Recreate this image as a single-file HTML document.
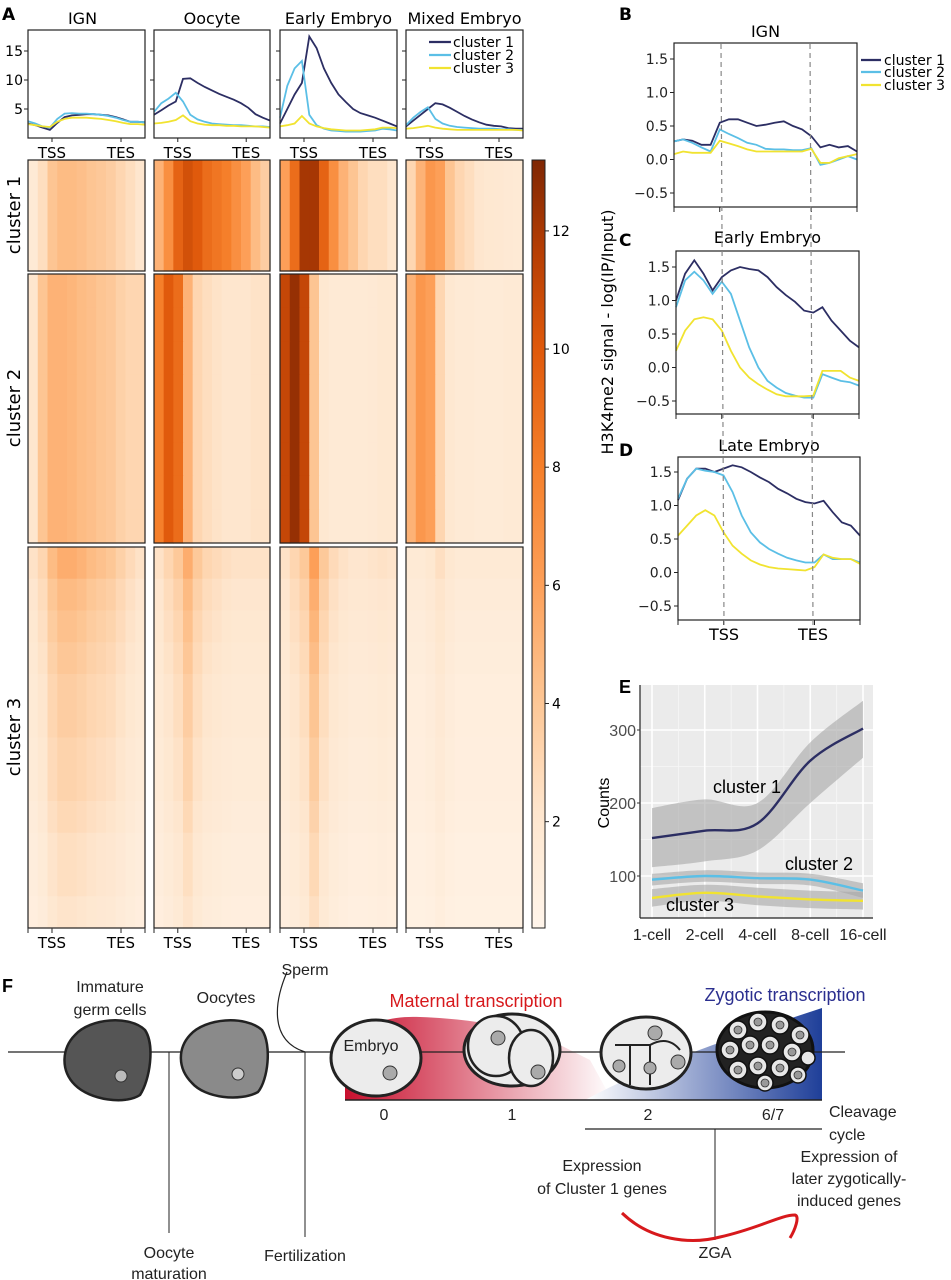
<!DOCTYPE html>
<html><head><meta charset="utf-8">
<style>
html,body{margin:0;padding:0;background:#fff;}
svg{display:block;font-family:"DejaVu Sans","Liberation Sans",sans-serif;}
</style></head>
<body>
<svg id="fig" width="951" height="1280" viewBox="0 0 951 1280" xmlns="http://www.w3.org/2000/svg">
<defs>
<linearGradient id="redGrad" x1="0" x2="1" y1="0" y2="0"><stop offset="0" stop-color="#c8102e"/><stop offset="1" stop-color="#ffffff"/></linearGradient>
<linearGradient id="blueGrad" x1="0" x2="1" y1="0" y2="0"><stop offset="0" stop-color="#ffffff"/><stop offset="1" stop-color="#1f3f99"/></linearGradient>
<linearGradient id="cbarGrad" x1="0" x2="0" y1="1" y2="0">
<stop offset="0" stop-color="#fff5eb"/><stop offset="0.15" stop-color="#fee6ce"/><stop offset="0.3" stop-color="#fdc593"/><stop offset="0.45" stop-color="#fd9f58"/><stop offset="0.6" stop-color="#f57f2a"/><stop offset="0.75" stop-color="#e05a0c"/><stop offset="0.88" stop-color="#b63e04"/><stop offset="1" stop-color="#7f2704"/></linearGradient>
</defs>
<g id="panelA"></g>
<g id="panelBCD"></g>
<g id="panelE" font-family="Liberation Sans, sans-serif"></g>
<g id="panelF" font-family="Liberation Sans, sans-serif"></g>
</svg>
<script>
// ---------- DATA ----------
const samplesA = ["IGN","Oocyte","Early Embryo","Mixed Embryo"];
const ticksA = [5,10,15];
const profIGN_c1 = [2.5,2.2,1.8,1.4,2.6,3.6,3.9,4.0,4.1,4.1,4.0,3.9,3.6,3.2,2.8,2.8,2.7];
const profIGN_c2 = [2.9,2.5,2.0,1.8,3.3,4.2,4.3,4.2,4.2,4.1,4.0,3.8,3.5,3.1,2.8,2.8,2.7];
const profIGN_c3 = [2.4,2.2,2.0,1.9,2.8,3.3,3.5,3.5,3.5,3.4,3.3,3.1,2.9,2.6,2.4,2.4,2.3];
const profOoc_c1 = [4,4.8,5.6,6.3,10.2,10.3,9.5,8.8,8.2,7.6,7.1,6.6,6.0,5.2,4.1,3.5,3.0];
const profOoc_c2 = [4.5,6,6.8,7.8,6.3,4,3.2,2.8,2.5,2.4,2.3,2.2,2.2,2.1,2.0,2.0,1.9];
const profOoc_c3 = [2.5,2.6,2.8,3.1,3.9,2.9,2.5,2.3,2.2,2.2,2.1,2.1,2.0,2.0,2.0,1.9,1.8];
const profEar_c1 = [2.5,5,7.5,9.5,17.5,15.5,12,9.5,7.5,6.2,5,4.3,3.9,3.5,3.0,2.5,2.0];
const profEar_c2 = [3.5,9,12,13.3,4,2.2,1.6,1.3,1.2,1.1,1.1,1.1,1.2,1.3,1.6,1.5,1.3];
const profEar_c3 = [2.0,2.2,2.5,3.8,2.5,2.0,1.7,1.5,1.4,1.3,1.3,1.3,1.4,1.5,1.8,1.8,1.7];
const profMix_c1 = [2,3,4,5,6,5.8,5.2,4.5,3.8,3.2,2.7,2.3,2.1,2.0,1.7,1.6,1.6];
const profMix_c2 = [2.2,3.5,4.5,5.3,3.3,2.5,2.1,1.9,1.8,1.7,1.6,1.6,1.6,1.5,1.5,1.4,1.4];
const profMix_c3 = [1.6,1.7,1.9,2.1,1.8,1.6,1.5,1.4,1.4,1.4,1.4,1.4,1.4,1.4,1.4,1.4,1.3];

const heatIGN_c1 = [1.5,2.5,4,4.5,4.5,4.3,4,3.8,3.5,3,2.5,2];
const heatIGN_c2 = [2,4,5,5,4.8,4.5,4.3,4,3.8,3.3,3,3];
const heatIGN_c3 = [1.5,2,3,3.5,3.5,3.3,3,2.8,2.6,2.2,1.8,1.5];
const heatOoc_c1 = [5,7,9.5,10.5,10,9,8.5,8,7,6,4.5,3.5];
const heatOoc_c2 = [8,10,9,5,3,2.5,2.2,2,2,2,2.2,2.2];
const heatOoc_c3 = [1.5,2,2.5,3.5,2.5,2,1.8,1.6,1.5,1.5,1.5,1.5];
const heatEar_c1 = [6,9,12,12,9.5,7,5,4,3,2.5,2.5,2];
const heatEar_c2 = [11,12.5,11,4,1.8,1.5,1.5,1.5,1.5,1.6,1.8,1.8];
const heatEar_c3 = [1.5,2,2.5,4,2.5,1.8,1.5,1.3,1.3,1.4,1.5,1.4];
const heatMix_c1 = [3,5,6.5,6,4,3,2.5,2,1.8,1.7,1.6,1.5];
const heatMix_c2 = [5,6.5,6,3,1.8,1.5,1.5,1.4,1.4,1.4,1.5,1.5];
const heatMix_c3 = [1,1,1.2,1.6,1.2,1,1,1,1,1,1,1];
const rowScale_c1 = [1,1,1,1,1,1];
const rowScale_c2 = [1,1,1,1,1,1,1,1];
const rowScale_c3 = [1.5,1.3,1.2,1.1,1,1,0.9,0.9,0.8,0.7,0.7,0.6];
const cbarTicks = [2,4,6,8,10,12];

const titlesBCD = ["IGN","Early Embryo","Late Embryo"];
const ticksBCD = [-0.5,0.0,0.5,1.0,1.5];
const ign_c1 = [0.27,0.3,0.28,0.22,0.22,0.55,0.6,0.6,0.55,0.5,0.52,0.55,0.57,0.5,0.45,0.35,0.18,0.22,0.18,0.2,0.12];
const ign_c2 = [0.27,0.3,0.25,0.18,0.12,0.45,0.38,0.32,0.25,0.22,0.16,0.15,0.15,0.14,0.14,0.17,-0.08,-0.05,0.0,0.05,0.0];
const ign_c3 = [0.08,0.12,0.1,0.1,0.1,0.28,0.24,0.2,0.15,0.12,0.12,0.12,0.12,0.12,0.12,0.16,-0.05,-0.05,0.02,0.05,0.08];
const early_c1 = [1.0,1.4,1.6,1.4,1.15,1.35,1.45,1.5,1.47,1.45,1.35,1.2,1.08,0.98,0.85,0.82,0.9,0.7,0.55,0.4,0.3];
const early_c2 = [0.9,1.3,1.43,1.3,1.1,1.28,1.1,0.7,0.3,0.0,-0.2,-0.3,-0.38,-0.42,-0.45,-0.45,-0.1,-0.15,-0.2,-0.22,-0.27];
const early_c3 = [0.25,0.55,0.72,0.75,0.72,0.55,0.25,0.0,-0.15,-0.25,-0.33,-0.4,-0.43,-0.43,-0.43,-0.42,-0.05,-0.05,-0.05,-0.15,-0.2];
const late_c1 = [1.08,1.4,1.55,1.55,1.5,1.55,1.6,1.57,1.5,1.42,1.35,1.25,1.18,1.1,1.05,1.03,1.07,0.9,0.75,0.7,0.55];
const late_c2 = [1.1,1.4,1.55,1.52,1.5,1.45,1.2,0.85,0.6,0.45,0.35,0.28,0.22,0.18,0.15,0.15,0.27,0.2,0.2,0.2,0.15];
const late_c3 = [0.55,0.7,0.85,0.93,0.85,0.6,0.4,0.28,0.18,0.12,0.08,0.06,0.05,0.04,0.03,0.08,0.27,0.22,0.2,0.2,0.13];

const stagesE = ["1-cell","2-cell","4-cell","8-cell","16-cell"];
const ticksE = [100,200,300];
const countC1 = [152,162,172,258,302];
const countC1hi = [193,205,200,283,340];
const countC1lo = [112,120,135,200,262];
const countC2 = [95,100,97,95,80];
const countC2hi = [103,108,105,103,90];
const countC2lo = [87,92,89,87,70];
const countC3 = [70,77,72,68,66];
const countC3hi = [82,88,84,80,78];
const countC3lo = [58,66,60,56,54];

// ---------- HELPERS ----------
const NS = "http://www.w3.org/2000/svg";
const C1 = "#2c2e63", C2 = "#5bbfe6", C3 = "#f1e330";
function mk(parent, tag, attrs, text){
  const e = document.createElementNS(NS, tag);
  for (const k in attrs) e.setAttribute(k, attrs[k]);
  if (text !== undefined) e.textContent = text;
  parent.appendChild(e);
  return e;
}
function polyPath(vals, xs, ys){
  return vals.map((v,i)=>(i?"L":"M")+xs(i).toFixed(1)+","+ys(v).toFixed(1)).join(" ");
}
function smoothPath(vals, xs, ys){
  const p = vals.map((v,i)=>[xs(i), ys(v)]);
  let d = "M"+p[0][0]+","+p[0][1];
  for (let i=0;i<p.length-1;i++){
    const p0=p[Math.max(0,i-1)], p1=p[i], p2=p[i+1], p3=p[Math.min(p.length-1,i+2)];
    const c1x=p1[0]+(p2[0]-p0[0])/6, c1y=p1[1]+(p2[1]-p0[1])/6;
    const c2x=p2[0]-(p3[0]-p1[0])/6, c2y=p2[1]-(p3[1]-p1[1])/6;
    d += " C"+c1x.toFixed(1)+","+c1y.toFixed(1)+" "+c2x.toFixed(1)+","+c2y.toFixed(1)+" "+p2[0].toFixed(1)+","+p2[1].toFixed(1);
  }
  return d;
}
const cmapStops = [[0,[255,245,235]],[2,[254,230,206]],[4,[253,197,147]],[6,[253,159,88]],[8,[245,127,42]],[10,[224,90,12]],[11.5,[182,62,4]],[13.2,[127,39,4]]];
function cmap(v){
  if (v<=cmapStops[0][0]) return "rgb("+cmapStops[0][1]+")";
  for (let i=0;i<cmapStops.length-1;i++){
    const a=cmapStops[i], b=cmapStops[i+1];
    if (v<=b[0]){ const t=(v-a[0])/(b[0]-a[0]);
      return "rgb("+a[1].map((c,j)=>Math.round(c+(b[1][j]-c)*t)).join(",")+")"; }
  }
  return "rgb("+cmapStops[cmapStops.length-1][1]+")";
}

// ---------- PANEL A ----------
const A = document.getElementById("panelA");
mk(A,"text",{x:2,y:20,"font-size":17,"font-weight":"bold",},"A");
const boxX = [[28,145],[154,270],[280,397],[406,523]];
const profTop=30, profBot=138;
const yA = v => Math.max(profTop, profBot - v*5.8);
const profs = [[profIGN_c1,profIGN_c2,profIGN_c3],[profOoc_c1,profOoc_c2,profOoc_c3],[profEar_c1,profEar_c2,profEar_c3],[profMix_c1,profMix_c2,profMix_c3]];
const heats = [[heatIGN_c1,heatIGN_c2,heatIGN_c3],[heatOoc_c1,heatOoc_c2,heatOoc_c3],[heatEar_c1,heatEar_c2,heatEar_c3],[heatMix_c1,heatMix_c2,heatMix_c3]];
const rowScales=[rowScale_c1,rowScale_c2,rowScale_c3];
const hmY = [[160,271],[274,543],[547,928]];
const colors=[C1,C2,C3];
samplesA.forEach((s,si)=>{
  const [x0,x1]=boxX[si], w=x1-x0;
  const title = mk(A,"text",{x:(x0+x1)/2+ (si===0?-4:0),y:24,"font-size":16,"text-anchor":"middle"},s);
  
  
  profs[si].forEach((vals,ci)=>{
    const xs = i => x0 + i*w/(vals.length-1);
    const ln = mk(A,"path",{d:polyPath(vals,xs,yA),fill:"none",stroke:colors[ci],"stroke-width":1.8});
    
    
  });
  const bx = mk(A,"rect",{x:x0,y:profTop,width:w,height:profBot-profTop,fill:"none",stroke:"#222","stroke-width":1.2});
  
  
  ticksA.forEach(t=>{
    mk(A,"line",{x1:x0-4,x2:x0,y1:yA(t),y2:yA(t),stroke:"#222","stroke-width":1});
    if (si===0){
      const tl = mk(A,"text",{x:x0-5,y:yA(t)+5,"font-size":14,"text-anchor":"end"},String(t));
      
      
    }
  });
  const tssX = x0 + w*0.205, tesX = x0 + w*0.795;
  [[tssX,"TSS"],[tesX,"TES"]].forEach(([xx,lab])=>{
    mk(A,"line",{x1:xx,x2:xx,y1:profBot,y2:profBot+4,stroke:"#222"});
    const t1 = mk(A,"text",{x:xx,y:158,"font-size":15,"text-anchor":"middle"},lab);
    
    
    mk(A,"line",{x1:xx,x2:xx,y1:928,y2:933,stroke:"#222"});
    const t2 = mk(A,"text",{x:xx,y:948,"font-size":15,"text-anchor":"middle"},lab);
    
    
  });
  mk(A,"line",{x1:x0,x2:x0,y1:928,y2:933,stroke:"#222"});
  mk(A,"line",{x1:x1,x2:x1,y1:928,y2:933,stroke:"#222"});
  heats[si].forEach((cols,ci)=>{
    const [y0,y1]=hmY[ci], rs=rowScales[ci];
    const cw = w/cols.length, rh=(y1-y0)/rs.length;
    rs.forEach((r,ri)=>{
      cols.forEach((v,bi)=>{
        const c = mk(A,"rect",{x:(x0+bi*cw).toFixed(2),y:(y0+ri*rh).toFixed(2),width:(cw+0.6).toFixed(2),height:(rh+0.6).toFixed(2),fill:cmap(v*r)});
        
        
      });
    });
    const hb = mk(A,"rect",{x:x0,y:y0,width:w,height:y1-y0,fill:"none",stroke:"#222","stroke-width":1.2});
    
    
  });
});
[["cluster 1",C1,42],["cluster 2",C2,55],["cluster 3",C3,68]].forEach(([lab,col,yy],i)=>{
  mk(A,"line",{x1:429,x2:451,y1:yy,y2:yy,stroke:col,"stroke-width":2.2});
  const t = mk(A,"text",{x:453,y:yy+5,"font-size":14},lab);
  
  
});
[["cluster 1",215],["cluster 2",408],["cluster 3",737]].forEach(([lab,yy],i)=>{
  const t = mk(A,"text",{x:20,y:yy,"font-size":18,"text-anchor":"middle",transform:"rotate(-90 20 "+yy+")"},lab);
  
  
});
const cbTop=160, cbBot=928, cbMin=0.2, cbMax=13.2;
const yCB = v => cbBot - (v-cbMin)/(cbMax-cbMin)*(cbBot-cbTop);
const cb = mk(A,"rect",{x:532,y:cbTop,width:13,height:cbBot-cbTop,fill:"url(#cbarGrad)",stroke:"#222","stroke-width":1});


cbarTicks.forEach(t=>{
  mk(A,"line",{x1:545,x2:549,y1:yCB(t),y2:yCB(t),stroke:"#222"});
  const tl = mk(A,"text",{x:552,y:yCB(t)+5,"font-size":14},String(t));
  
  
});

// ---------- PANELS B C D ----------
const B = document.getElementById("panelBCD");
const bcd = [
  {lab:"B",ly:20,title:titlesBCD[0],ty:37,x0:674,x1:857,top:43,bot:207,y15:59,data:[ign_c1,ign_c2,ign_c3]},
  {lab:"C",ly:246,title:titlesBCD[1],ty:243,x0:676,x1:859,top:251,bot:414,y15:267,data:[early_c1,early_c2,early_c3]},
  {lab:"D",ly:456,title:titlesBCD[2],ty:451,x0:678,x1:860,top:457,bot:620,y15:472,data:[late_c1,late_c2,late_c3]}
];
bcd.forEach((p,pi)=>{
  const w=p.x1-p.x0;
  const ys = v => p.y15 + (1.5-v)*67;
  const xs = i => p.x0 + i*w/20;
  mk(B,"text",{x:619,y:p.ly,"font-size":17,"font-weight":"bold"},p.lab);
  const tt = mk(B,"text",{x:(p.x0+p.x1)/2,y:p.ty,"font-size":16,"text-anchor":"middle"},p.title);
  
  
  p.data.forEach((vals,ci)=>{
    const ln = mk(B,"path",{d:polyPath(vals,xs,ys),fill:"none",stroke:colors[ci],"stroke-width":1.8});
    
    
  });
  mk(B,"rect",{x:p.x0,y:p.top,width:w,height:p.bot-p.top,fill:"none",stroke:"#222","stroke-width":1.2});
  ticksBCD.forEach(t=>{
    mk(B,"line",{x1:p.x0-4,x2:p.x0,y1:ys(t),y2:ys(t),stroke:"#222"});
    const tl = mk(B,"text",{x:p.x0-6,y:ys(t)+5,"font-size":14,"text-anchor":"end",fill:"#222"},(t<0?"\u2212":"")+Math.abs(t).toFixed(1));
    
    
  });
  [0,5,15,20].forEach(i=>mk(B,"line",{x1:xs(i),x2:xs(i),y1:p.bot,y2:p.bot+5,stroke:"#222"}));
});
mk(B,"line",{x1:721,x2:724,y1:44,y2:625,stroke:"#888","stroke-width":1.2,"stroke-dasharray":"5,4"});
mk(B,"line",{x1:810,x2:813,y1:44,y2:625,stroke:"#888","stroke-width":1.2,"stroke-dasharray":"5,4"});
mk(B,"text",{x:724,y:640,"font-size":16,"text-anchor":"middle"},"TSS");
mk(B,"text",{x:813,y:640,"font-size":16,"text-anchor":"middle"},"TES");
mk(B,"text",{x:613,y:332,"font-size":16,"text-anchor":"middle",transform:"rotate(-90 613 332)"},"H3K4me2 signal - log(IP/Input)");
[["cluster 1",C1,60],["cluster 2",C2,72],["cluster 3",C3,85]].forEach(([lab,col,yy],i)=>{
  mk(B,"line",{x1:861,x2:881,y1:yy,y2:yy,stroke:col,"stroke-width":2.2});
  const t = mk(B,"text",{x:884,y:yy+5,"font-size":14},lab);
  
  
});

// ---------- PANEL E ----------
const E = document.getElementById("panelE");
const ex0=640, ex1=873, etop=685, ebot=918;
const xE = i => 652 + i*52.75;
const yE = v => 876 - (v-100)*0.73;
mk(E,"text",{x:619,y:693,"font-size":18,"font-weight":"bold"},"E");
mk(E,"rect",{x:ex0,y:etop,width:ex1-ex0,height:ebot-etop,fill:"#ebebeb"});
[150,250].forEach(v=>mk(E,"line",{x1:ex0,x2:ex1,y1:yE(v),y2:yE(v),stroke:"#f7f7f7","stroke-width":0.8}));
ticksE.forEach(v=>mk(E,"line",{x1:ex0,x2:ex1,y1:yE(v),y2:yE(v),stroke:"#fff","stroke-width":1.6}));
stagesE.forEach((s,i)=>{
  mk(E,"line",{x1:xE(i),x2:xE(i),y1:etop,y2:ebot,stroke:"#fff","stroke-width":1.6});
  if (i<stagesE.length-1) mk(E,"line",{x1:xE(i)+26.4,x2:xE(i)+26.4,y1:etop,y2:ebot,stroke:"#f7f7f7","stroke-width":0.8});
  const t = mk(E,"text",{x:xE(i),y:940,"font-size":16,"text-anchor":"middle",fill:"#222"},s);
  
  
});
function band(hi,lo,name){
  const up = smoothPath(hi,xE,yE);
  const rev = lo.slice().reverse();
  const down = smoothPath(rev,i=>xE(lo.length-1-i),yE).replace(/^M/,"L");
  const b = mk(E,"path",{d:up+" "+down+" Z",fill:"#a6a6a6","fill-opacity":0.6});
  
  
}
band(countC1hi,countC1lo,'ci-band-cluster-1');
band(countC2hi,countC2lo,'ci-band-cluster-2');
band(countC3hi,countC3lo,'ci-band-cluster-3');
[[countC3,C3,3],[countC2,C2,2],[countC1,C1,1]].forEach(([vals,col,n])=>{
  const l = mk(E,"path",{d:smoothPath(vals,xE,yE),fill:"none",stroke:col,"stroke-width":2.4});
  
  
});
mk(E,"line",{x1:ex0,x2:ex0,y1:etop,y2:ebot,stroke:"#222","stroke-width":1.2});
mk(E,"line",{x1:ex0,x2:ex1,y1:ebot,y2:ebot,stroke:"#222","stroke-width":1.2});
ticksE.forEach(v=>{
  mk(E,"line",{x1:ex0-3,x2:ex0,y1:yE(v),y2:yE(v),stroke:"#333"});
  const t = mk(E,"text",{x:ex0-4,y:yE(v)+6,"font-size":16,"text-anchor":"end",fill:"#4d4d4d"},String(v));
  
  
});
mk(E,"text",{x:609,y:803,"font-size":16,"text-anchor":"middle",transform:"rotate(-90 609 803)"},"Counts");
mk(E,"text",{x:713,y:793,"font-size":18},"cluster 1");
mk(E,"text",{x:785,y:870,"font-size":18},"cluster 2");
mk(E,"text",{x:666,y:911,"font-size":18},"cluster 3");

// ---------- PANEL F ----------
const F = document.getElementById("panelF");
F.innerHTML = `
<text x="2" y="992" font-size="18" font-weight="bold">F</text>
<path d="M345,1062 C345,1030 380,1015 420,1017 C470,1019 500,1025 540,1035 L590,1060 L612,1100 L345,1100 Z" fill="url(#redGrad)"/>
<path d="M585,1100 C640,1070 700,1050 740,1035 L822,1008 L822,1100 Z" fill="url(#blueGrad)"/>
<line x1="345" y1="1100" x2="822" y2="1100" stroke="#222" stroke-width="1.5"/>
<line x1="8" y1="1052" x2="845" y2="1052" stroke="#222" stroke-width="1.2"/>
<path d="M75,1035 C90,1018 130,1015 145,1030 C155,1045 150,1080 140,1095 C125,1105 90,1100 75,1085 C60,1070 62,1048 75,1035 Z" fill="#555" stroke="#222" stroke-width="2.5"/>
<circle cx="121" cy="1076" r="6" fill="#bbb" stroke="#333"/>
<path d="M190,1035 C205,1018 245,1015 262,1030 C272,1045 268,1080 258,1092 C240,1102 205,1098 192,1083 C177,1068 178,1048 190,1035 Z" fill="#8a8a8a" stroke="#222" stroke-width="2.5"/>
<circle cx="238" cy="1074" r="6" fill="#ccc" stroke="#333"/>
<path d="M287,972 C275,1000 268,1040 305,1052" fill="none" stroke="#222" stroke-width="1.2"/>
<line x1="169" y1="1052" x2="169" y2="1233" stroke="#222" stroke-width="1"/>
<line x1="305" y1="1052" x2="305" y2="1237" stroke="#222" stroke-width="1"/>
<ellipse cx="376" cy="1058" rx="45" ry="38" fill="#ececec" stroke="#222" stroke-width="3"/>
<circle cx="390" cy="1073" r="7" fill="#aaa" stroke="#333"/>
<g>
<ellipse cx="512" cy="1050" rx="48" ry="36" fill="#ececec" stroke="#222" stroke-width="3"/>
<ellipse cx="496" cy="1046" rx="28" ry="30" fill="#ececec" stroke="#222" stroke-width="2.5"/>
<ellipse cx="531" cy="1058" rx="22" ry="28" fill="#ececec" stroke="#222" stroke-width="2.5"/>
<circle cx="498" cy="1038" r="7" fill="#aaa" stroke="#333"/><circle cx="538" cy="1072" r="7" fill="#aaa" stroke="#333"/>
</g>
<g>
<ellipse cx="646" cy="1053" rx="45" ry="36" fill="#ececec" stroke="#222" stroke-width="3"/>
<path d="M615,1045 L650,1045 L650,1085 M650,1045 Q668,1035 680,1050 M630,1045 L630,1085" fill="none" stroke="#222" stroke-width="2"/>
<circle cx="655" cy="1033" r="7" fill="#aaa" stroke="#333"/><circle cx="619" cy="1066" r="6" fill="#aaa" stroke="#333"/>
<circle cx="650" cy="1068" r="6" fill="#aaa" stroke="#333"/><circle cx="678" cy="1062" r="7" fill="#aaa" stroke="#333"/>
</g>
<g>
<ellipse cx="765" cy="1050" rx="48" ry="38" fill="#222" stroke="#111" stroke-width="3"/>
<g fill="#e8e8e8" stroke="#111" stroke-width="1.5">
<circle cx="738" cy="1030" r="9"/><circle cx="758" cy="1022" r="9"/><circle cx="780" cy="1025" r="9"/><circle cx="800" cy="1035" r="9"/>
<circle cx="730" cy="1050" r="9"/><circle cx="750" cy="1045" r="9"/><circle cx="770" cy="1045" r="9"/><circle cx="792" cy="1052" r="9"/><circle cx="808" cy="1058" r="7"/>
<circle cx="738" cy="1070" r="9"/><circle cx="758" cy="1066" r="9"/><circle cx="780" cy="1068" r="9"/><circle cx="798" cy="1075" r="8"/><circle cx="765" cy="1083" r="8"/>
</g>
<g fill="#999" stroke="#333" stroke-width="0.8">
<circle cx="738" cy="1030" r="4"/><circle cx="758" cy="1022" r="4"/><circle cx="780" cy="1025" r="4"/><circle cx="800" cy="1035" r="4"/>
<circle cx="730" cy="1050" r="4"/><circle cx="750" cy="1045" r="4"/><circle cx="770" cy="1045" r="4"/><circle cx="792" cy="1052" r="4"/>
<circle cx="738" cy="1070" r="4"/><circle cx="758" cy="1066" r="4"/><circle cx="780" cy="1068" r="4"/><circle cx="798" cy="1075" r="4"/><circle cx="765" cy="1083" r="4"/>
</g>
</g>
<g font-size="16" fill="#222" text-anchor="middle">
<text x="110" y="992">Immature</text>
<text x="110" y="1015">germ cells</text>
<text x="226" y="1003">Oocytes</text>
<text x="305" y="975">Sperm</text>
<text x="371" y="1051">Embryo</text>
<text x="169" y="1258">Oocyte</text>
<text x="169" y="1279">maturation</text>
<text x="305" y="1261">Fertilization</text>
<text x="384" y="1120">0</text><text x="512" y="1120">1</text><text x="648" y="1120">2</text><text x="773" y="1120">6/7</text>
<text x="715" y="1258">ZGA</text>
<text x="602" y="1171">Expression</text>
<text x="602" y="1194">of Cluster 1 genes</text>
<text x="849" y="1162">Expression of</text>
<text x="849" y="1184">later zygotically-</text>
<text x="849" y="1206">induced genes</text>
</g>
<text x="829" y="1117" font-size="16" fill="#222">Cleavage</text>
<text x="829" y="1140" font-size="16" fill="#222">cycle</text>
<text x="476" y="1007" font-size="18" fill="#d7191c" text-anchor="middle">Maternal transcription</text>
<text x="785" y="1001" font-size="18" fill="#2b2f8f" text-anchor="middle">Zygotic transcription</text>
<line x1="585" y1="1129" x2="822" y2="1129" stroke="#222" stroke-width="1.2"/>
<line x1="715" y1="1129" x2="715" y2="1240" stroke="#222" stroke-width="1"/>
<path d="M622,1213 C650,1240 690,1245 720,1237 C760,1228 780,1215 795,1215 C800,1216 795,1230 790,1238" fill="none" stroke="#d7191c" stroke-width="3"/>
`;
</script>
</body></html>
